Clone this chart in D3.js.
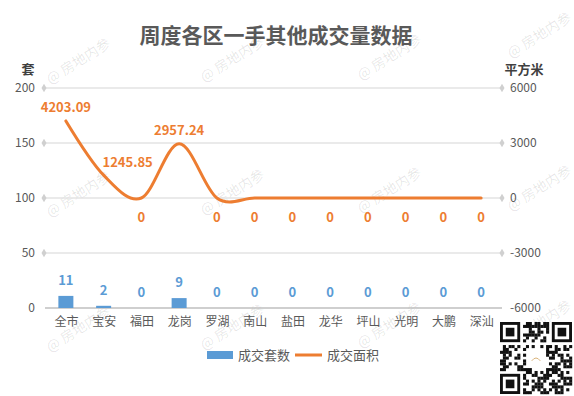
<!DOCTYPE html>
<html><head><meta charset="utf-8">
<script src="https://cdn.jsdelivr.net/npm/d3@7"></script>
<style>
html,body{margin:0;padding:0;background:#fff;}
svg{display:block;font-family:"Noto Sans CJK SC","Noto Sans",sans-serif;}
</style></head>
<body><svg id="c" width="574" height="396"></svg>
<script>
const categories = ["全市","宝安","福田","龙岗","罗湖","南山","盐田","龙华","坪山","光明","大鹏","深汕"];
const units = [11,2,0,9,0,0,0,0,0,0,0,0];
const areas = [4203.09,1245.85,0,2957.24,0,0,0,0,0,0,0,0];
const areaLabels = ["4203.09","1245.85","0","2957.24","0","0","0","0","0","0","0","0"];
const leftTicks = [0,50,100,150,200];
const rightTicks = [-6000,-3000,0,3000,6000];
const seriesNames = ["成交套数","成交面积"];
const title = "周度各区一手其他成交量数据";

const svg = d3.select("#c");
const m = {l:47, r:500, t:88, b:308};
const blue = "#5B9BD5", orange = "#ED7D31", txt = "#595959";

// watermarks
const wmX = [79,233,390,540], wmY = [62,195,330];
const wm = svg.append("g");
wmY.forEach((y,ri)=>wmX.forEach((x,ci)=>{
  const yy = (ri===0 && ci===3) ? 36 : y - ci*2;
  wm.append("text").attr("transform",`translate(${x},${yy}) rotate(-32)`)
    .attr("text-anchor","middle").attr("dominant-baseline","middle")
    .attr("font-size",14).attr("fill","rgba(0,0,0,0.10)").text("@ 房地内参");
}));

const xp = d3.scalePoint().domain(categories).range([m.l, m.r]).padding(0.5);
const yL = d3.scaleLinear().domain([0,200]).range([m.b, m.t]);
const yR = d3.scaleLinear().domain([-6000,6000]).range([m.b, m.t]);

// title
svg.append("text").attr("x",276).attr("y",43).attr("text-anchor","middle")
  .attr("font-size",21).attr("font-weight","bold").attr("fill",txt).text(title);
svg.append("text").attr("x",28).attr("y",74).attr("text-anchor","middle")
  .attr("font-size",13).attr("font-weight","bold").attr("fill","#404040").text("套");
svg.append("text").attr("x",524).attr("y",74).attr("text-anchor","middle")
  .attr("font-size",13).attr("font-weight","bold").attr("fill","#404040").text("平方米");

// gridlines
const grid = svg.append("g");
leftTicks.forEach(t=>{
  grid.append("line").attr("x1",m.l-2).attr("x2",m.r+2).attr("y1",yL(t)).attr("y2",yL(t))
    .attr("stroke", t===0 ? "#BFBFBF" : "#E3E3E3").attr("stroke-width",1.3);
  if(t!==0){
    [m.l-3, m.r+2].forEach(dx=>grid.append("path").attr("d",d3.symbol(d3.symbolDiamond,22)())
      .attr("transform",`translate(${dx},${yL(t)})`).attr("fill","#D0D0D0"));
  }
});

// axes
const fmt = d => String(d);
const axL = svg.append("g").attr("transform",`translate(${m.l-8},0)`)
  .call(d3.axisLeft(yL).tickValues(leftTicks).tickSize(0).tickPadding(4).tickFormat(fmt));
const axR = svg.append("g").attr("transform",`translate(${m.r+8},0)`)
  .call(d3.axisRight(yR).tickValues(rightTicks).tickSize(0).tickPadding(2).tickFormat(fmt));
const axB = svg.append("g").attr("transform",`translate(0,${m.b})`)
  .call(d3.axisBottom(xp).tickSize(0).tickPadding(9));
[axL,axR,axB].forEach(a=>{a.select(".domain").remove();
  a.selectAll("text").attr("font-size",12).attr("fill",txt).attr("font-family","\"Noto Sans CJK SC\",sans-serif");});

// bars
svg.append("g").selectAll("rect").data(categories).join("rect")
  .attr("x",(d)=>xp(d)-7.5).attr("width",15)
  .attr("y",(d,i)=>yL(units[i])).attr("height",(d,i)=>yL(0)-yL(units[i]))
  .attr("fill",blue);
svg.append("g").selectAll("text").data(categories).join("text")
  .attr("x",d=>xp(d)).attr("y",(d,i)=>yL(units[i])-11)
  .attr("text-anchor","middle").attr("font-size",13).attr("font-weight","bold")
  .attr("fill",blue).text((d,i)=>units[i]);

// line
const line = d3.line().x((d,i)=>xp(categories[i])).y(d=>yR(d)).curve(d3.curveCardinal.tension(0));
svg.append("path").datum(areas).attr("d",line).attr("fill","none")
  .attr("stroke",orange).attr("stroke-width",3).attr("stroke-linecap","round");
svg.append("g").selectAll("text").data(categories).join("text")
  .attr("x",(d,i)=>xp(d) + (i===1 ? 24 : 0))
  .attr("y",(d,i)=> i===1 ? yR(areas[i])-8 : (areas[i]>0 ? yR(areas[i])-9 : yR(areas[i])+24))
  .attr("text-anchor","middle").attr("font-size",13).attr("font-weight","bold")
  .attr("fill",orange).text((d,i)=>areaLabels[i]);

// legend
const lg = svg.append("g");
lg.append("rect").attr("x",207).attr("y",351).attr("width",26).attr("height",8).attr("fill",blue);
lg.append("text").attr("x",238).attr("y",360).attr("font-size",13).attr("fill",txt).text(seriesNames[0]);
lg.append("line").attr("x1",295).attr("x2",322).attr("y1",355).attr("y2",355).attr("stroke",orange).attr("stroke-width",3);
lg.append("text").attr("x",327).attr("y",360).attr("font-size",13).attr("fill",txt).text(seriesNames[1]);

// QR-like decoration
const qr = svg.append("g").attr("transform","translate(500,322)");
const N = 25, cs = 72/N;
qr.append("rect").attr("width",72).attr("height",74).attr("fill","#fff");
function finder(cx,cy){
  qr.append("rect").attr("x",cx*cs).attr("y",cy*cs).attr("width",7*cs).attr("height",7*cs).attr("fill","#111");
  qr.append("rect").attr("x",(cx+1)*cs).attr("y",(cy+1)*cs).attr("width",5*cs).attr("height",5*cs).attr("fill","#fff");
  qr.append("rect").attr("x",(cx+2)*cs).attr("y",(cy+2)*cs).attr("width",3*cs).attr("height",3*cs).attr("fill","#111");
}
for(let r=0;r<N;r++)for(let c=0;c<N;c++){
  const inF = (r<8&&c<8)||(r<8&&c>=N-8)||(r>=N-8&&c<8);
  const inLogo = r>=9&&r<16&&c>=9&&c<16;
  if(inF||inLogo) continue;
  const h = ((r*7919 + c*104729 + r*c*31) % 97);
  if(h%2===0) qr.append("rect").attr("x",c*cs).attr("y",r*cs).attr("width",cs+0.2).attr("height",cs+0.2).attr("fill","#111");
}
finder(0,0); finder(N-7,0); finder(0,N-7);
qr.append("path").attr("d",`M${11*cs},${13.5*cs} Q${12.5*cs},${11.5*cs} ${14*cs},${13.5*cs}`).attr("stroke","#d9b37a").attr("fill","none");
</script></body></html>
